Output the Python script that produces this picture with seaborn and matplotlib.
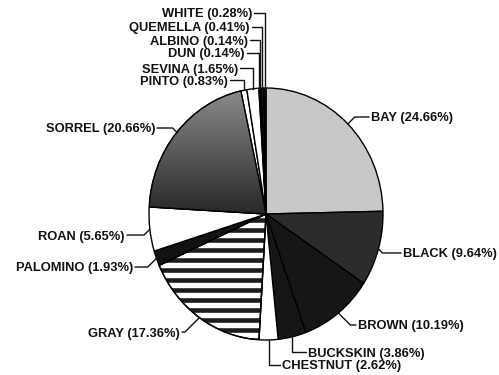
import matplotlib
matplotlib.use("Agg")
import matplotlib.pyplot as plt
import seaborn as sns
import numpy as np
from matplotlib.lines import Line2D

# ---- data ----
categories = ["BAY", "BLACK", "BROWN", "BUCKSKIN", "CHESTNUT", "GRAY", "PALOMINO",
              "ROAN", "SORREL", "PINTO", "SEVINA", "DUN", "ALBINO", "QUEMELLA", "WHITE"]
percents = [24.66, 9.64, 10.19, 3.86, 2.62, 17.36, 1.93,
            5.65, 20.66, 0.83, 1.65, 0.14, 0.14, 0.41, 0.28]
labels = [f"{c} ({p:.2f}%)" for c, p in zip(categories, percents)]

# ---- styles ----
fills = ["#c8c8c8", "#2c2c2c", "#161616", "#161616", "#ffffff", "#ffffff", "#121212",
         "#ffffff", "#505050", "#ffffff", "#ffffff", "#111111", "#111111", "#111111", "#111111"]
striped = "GRAY"
gradient = "SORREL"

# label layout in pixels from top-left: (x, y, ha, leader style)
label_layout = [
    (371, 117, "left", "d"), (403, 253, "left", "d"), (358, 325, "left", "d"),
    (308, 352, "left", "v"), (282, 365, "left", "v"), (180, 332, "right", "d"),
    (133, 267, "right", "d"), (125, 235, "right", "d"), (155, 128, "right", "d"),
    (228, 80, "right", "v"), (238, 68, "right", "v"), (245, 53, "right", "v"),
    (248, 40, "right", "v"), (250, 27, "right", "v"), (252, 13, "right", "v"),
]

W, H = 499, 375
sns.set_theme(style="white")
plt.rcParams["font.family"] = ["Liberation Sans", "DejaVu Sans"]

fig = plt.figure(figsize=(W / 100, H / 100), dpi=100)
fig.patch.set_facecolor("white")
cx, cy, rx, ry = 266, 214, 117, 126
ax = fig.add_axes([(cx - rx) / W, (H - cy - ry) / H, 2 * rx / W, 2 * ry / H])

wedges, _ = ax.pie(percents, colors=fills, startangle=90, counterclock=False,
                   wedgeprops=dict(edgecolor="black", linewidth=1.0))
ax.set_aspect("auto")
ax.set_xlim(-1, 1)
ax.set_ylim(-1, 1)
ax.axis("off")

for w, cat in zip(wedges, categories):
    if cat == striped:
        period = 2.0 / (2 * ry) * 10  # 10 px period
        for yy in np.arange(-1.0, 1.0, period):
            ln, = ax.plot([-1.05, 1.05], [yy, yy], color="#1c1c1c", lw=3.3,
                          solid_capstyle="butt", zorder=w.get_zorder() + 0.1)
            ln.set_clip_path(w)
        outline = plt.matplotlib.patches.Wedge(w.center, w.r, w.theta1, w.theta2,
                                               facecolor="none", edgecolor="black",
                                               lw=1.0, zorder=w.get_zorder() + 0.2)
        ax.add_patch(outline)
    if cat == gradient:
        grad = np.linspace(0.55, 0.12, 256).reshape(-1, 1)
        im = ax.imshow(grad, cmap="gray", vmin=0, vmax=1, extent=(-1, 1, -0.1, 1.0),
                       aspect="auto", zorder=w.get_zorder() + 0.1, interpolation="bilinear")
        im.set_clip_path(w)
        outline = plt.matplotlib.patches.Wedge(w.center, w.r, w.theta1, w.theta2,
                                               facecolor="none", edgecolor="black",
                                               lw=1.0, zorder=w.get_zorder() + 0.2)
        ax.add_patch(outline)
ax.set_xlim(-1, 1)
ax.set_ylim(-1, 1)
fig.canvas.draw()

def to_fig(px, py):
    return px / W, 1 - py / H

for w, lab, (tx, ty, ha, style) in zip(wedges, labels, label_layout):
    mid = np.deg2rad((w.theta1 + w.theta2) / 2)
    ex, ey = ax.transData.transform((np.cos(mid), np.sin(mid)))
    ey = H - ey
    gap = 2
    endx = tx + gap if ha == "right" else tx - gap
    if style == "v":
        pts = [(ex, ey), (ex, ty), (endx, ty)]
    else:
        dy = ty - ey
        sgn = 1 if endx > ex else -1
        dx = min(abs(dy), abs(endx - ex))
        pts = [(ex, ey), (ex + sgn * dx, ty), (endx, ty)]
    xs, ys = zip(*[to_fig(*p) for p in pts])
    fig.add_artist(Line2D(xs, ys, color="#111111", linewidth=1.0, transform=fig.transFigure))
    fx, fy = to_fig(tx, ty)
    fig.text(fx, fy, lab, ha=ha, va="center_baseline", fontsize=9.3,
             fontweight="bold", color="#111111")

fig.savefig("out.png", dpi=100, facecolor="white")
